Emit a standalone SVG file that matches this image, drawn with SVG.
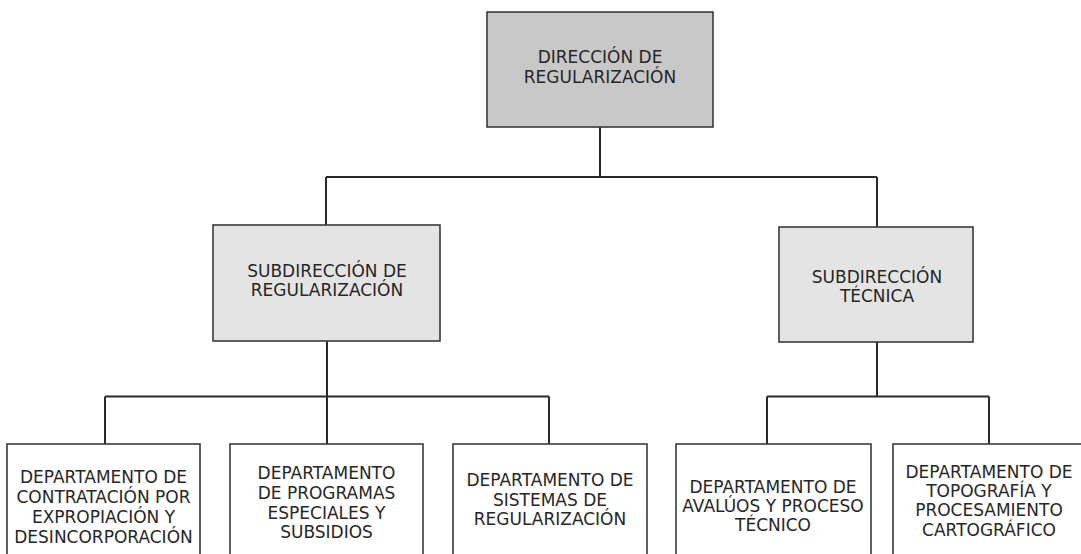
<svg xmlns="http://www.w3.org/2000/svg" width="1081" height="554" viewBox="0 0 1081 554">
<style>
.box{stroke:#3a3a3a;stroke-width:1.6}
.top{fill:#c8c8c8}
.sub{fill:#e4e4e4}
.dep{fill:#ffffff}
.conn{fill:none;stroke:#2a2a2a;stroke-width:2}
text{font-family:"DejaVu Sans","Liberation Sans",sans-serif;font-size:17px;fill:#262626;text-anchor:middle}
</style>
<rect width="1081" height="554" fill="#ffffff"/>
<g id="connectors">
<path class="conn" d="M600 127V177M326 177H877M326 177V225M877 177V227"/>
<path class="conn" d="M327 341V396.5M105 396.5H549M105 396.5V444M327 396.5V444M549 396.5V444"/>
<path class="conn" d="M877 342V396.5M767 396.5H989M767 396.5V444M989 396.5V444"/>
</g>
<g id="n-direccion">
<rect class="box top" x="487" y="12" width="226" height="115"/>
<text x="600" y="63">DIRECCIÓN DE</text>
<text x="600" y="83">REGULARIZACIÓN</text>
</g>
<g id="n-sub-regularizacion">
<rect class="box sub" x="213" y="225" width="227" height="116"/>
<text x="327" y="277">SUBDIRECCIÓN DE</text>
<text x="327" y="296">REGULARIZACIÓN</text>
</g>
<g id="n-sub-tecnica">
<rect class="box sub" x="779" y="227" width="194" height="115"/>
<text x="877" y="283">SUBDIRECCIÓN</text>
<text x="877" y="301.5">TÉCNICA</text>
</g>
<g id="n-dep-contratacion">
<rect class="box dep" x="7" y="444" width="193" height="120"/>
<text x="103.5" y="483">DEPARTAMENTO DE</text>
<text x="103.5" y="503">CONTRATACIÓN POR</text>
<text x="103.5" y="523">EXPROPIACIÓN Y</text>
<text x="103.5" y="543">DESINCORPORACIÓN</text>
</g>
<g id="n-dep-programas">
<rect class="box dep" x="230" y="444" width="193" height="120"/>
<text x="326.5" y="479">DEPARTAMENTO</text>
<text x="326.5" y="499">DE PROGRAMAS</text>
<text x="326.5" y="519">ESPECIALES Y</text>
<text x="326.5" y="538">SUBSIDIOS</text>
</g>
<g id="n-dep-sistemas">
<rect class="box dep" x="453" y="444" width="194" height="120"/>
<text x="550" y="486">DEPARTAMENTO DE</text>
<text x="550" y="506">SISTEMAS DE</text>
<text x="550" y="525">REGULARIZACIÓN</text>
</g>
<g id="n-dep-avaluos">
<rect class="box dep" x="676" y="444" width="195" height="120"/>
<text x="773" y="493">DEPARTAMENTO DE</text>
<text x="773" y="512">AVALÚOS Y PROCESO</text>
<text x="773" y="531">TÉCNICO</text>
</g>
<g id="n-dep-topografia">
<rect class="box dep" x="893" y="444" width="194" height="120"/>
<text x="989" y="478">DEPARTAMENTO DE</text>
<text x="989" y="497">TOPOGRAFÍA Y</text>
<text x="989" y="516">PROCESAMIENTO</text>
<text x="989" y="536">CARTOGRÁFICO</text>
</g>
</svg>
